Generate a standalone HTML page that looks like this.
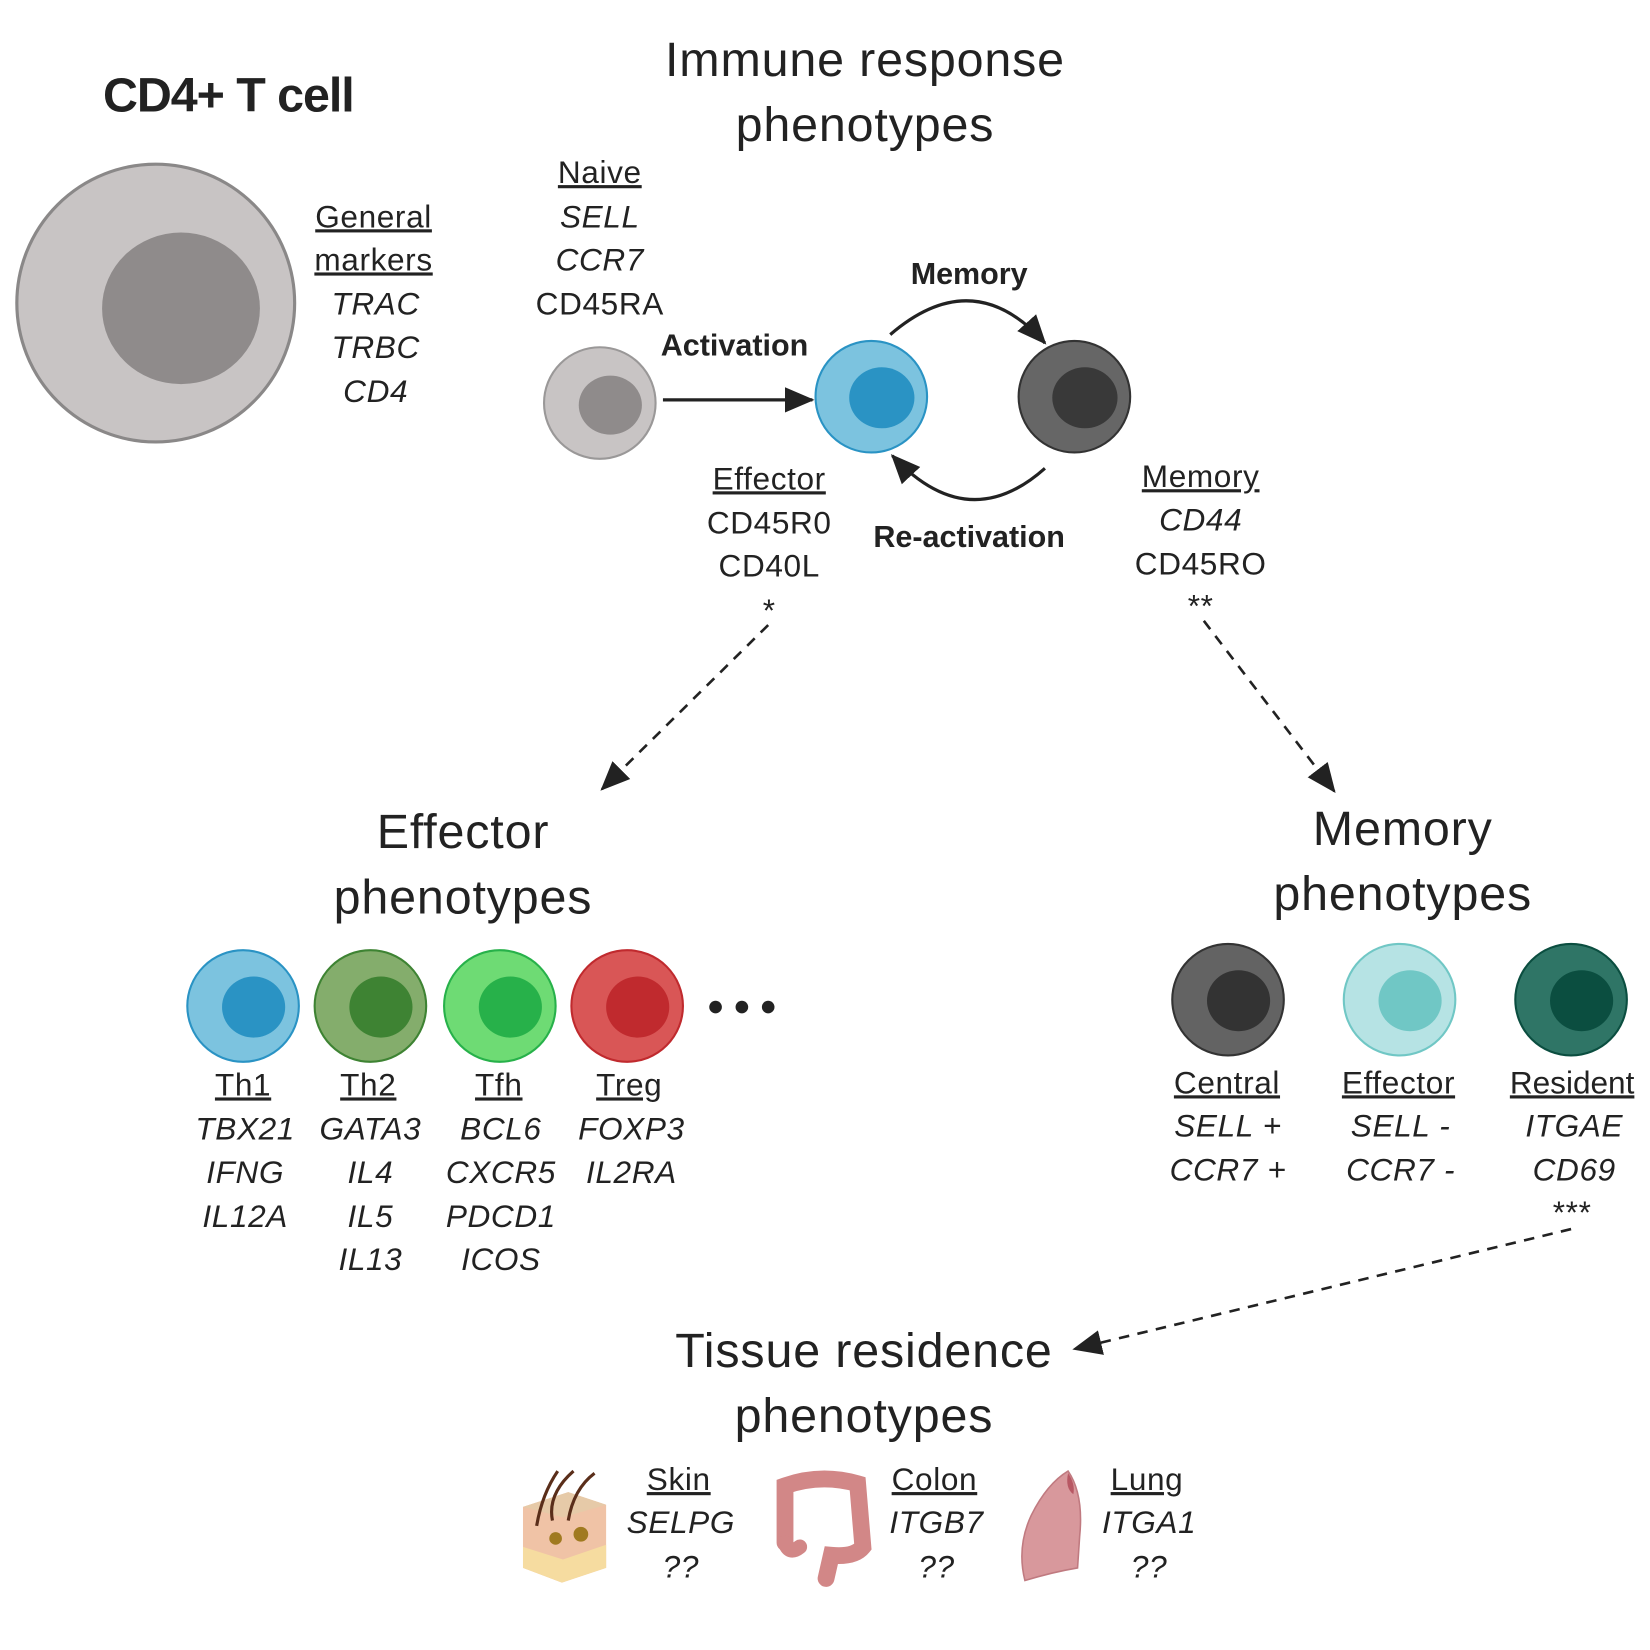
<!DOCTYPE html>
<html><head><meta charset="utf-8"><style>
html,body{margin:0;padding:0;background:#fff;}
svg{display:block;}
text{font-family:"Liberation Sans",sans-serif;fill:#222;}
.t{font-size:46px;letter-spacing:0.8px;}
.l{font-size:30px;letter-spacing:0.6px;}
.i{font-size:30px;font-style:italic;letter-spacing:0.6px;}
.b{font-size:29px;font-weight:bold;}
.u{text-decoration:underline;}
</style></head><body>
<svg width="1650" height="1650" viewBox="0 0 1568 1568">
<defs>
<marker id="ah2" markerWidth="30" markerHeight="30" refX="26" refY="15" orient="auto" markerUnits="userSpaceOnUse" viewBox="0 0 30 30"><path d="M0,3 L28,15 L0,27 z" fill="#222"/></marker></defs>

<text x="217" y="106" style="font-size:46px;font-weight:bold;letter-spacing:-1px" text-anchor="middle">CD4+ T cell</text>
<g><circle cx="148" cy="288" r="132" fill="#c8c4c4" stroke="#8a8888" stroke-width="3"/><ellipse cx="172" cy="293" rx="75" ry="72" fill="#8f8b8b"/></g>
<g text-anchor="middle">
<text x="355" y="216" class="l u">General</text><text x="355" y="257" class="l u">markers</text>
<text x="357" y="299" class="i">TRAC</text><text x="357" y="340" class="i">TRBC</text><text x="357" y="382" class="i">CD4</text></g>

<text x="822" y="72" class="t" text-anchor="middle">Immune response</text>
<text x="822" y="134" class="t" text-anchor="middle">phenotypes</text>

<g text-anchor="middle">
<text x="570" y="174" class="l u">Naive</text><text x="570" y="216" class="i">SELL</text><text x="570" y="257" class="i">CCR7</text><text x="570" y="299" class="l">CD45RA</text></g>
<g><circle cx="570" cy="383" r="53" fill="#c8c4c4" stroke="#9a9898" stroke-width="2"/><ellipse cx="580" cy="385" rx="30" ry="28" fill="#8f8b8b"/></g>
<text x="698" y="338" class="b" text-anchor="middle">Activation</text>
<line x1="630" y1="380" x2="772" y2="380" stroke="#222" stroke-width="3" marker-end="url(#ah2)"/>
<g><circle cx="828" cy="377" r="53" fill="#7cc3df" stroke="#2a93c4" stroke-width="2"/><ellipse cx="838" cy="378" rx="31" ry="29" fill="#2a93c4"/></g>
<g><circle cx="1021" cy="377" r="53" fill="#666" stroke="#333" stroke-width="2"/><ellipse cx="1031" cy="378" rx="31" ry="29" fill="#393939"/></g>
<text x="921" y="270" class="b" text-anchor="middle">Memory</text>
<path d="M846,318 Q925,250 993,326" fill="none" stroke="#222" stroke-width="3" marker-end="url(#ah2)"/>
<path d="M993,445 Q920,510 848,433" fill="none" stroke="#222" stroke-width="3" marker-end="url(#ah2)"/>
<text x="921" y="520" class="b" text-anchor="middle">Re-activation</text>

<g text-anchor="middle">
<text x="731" y="465" class="l u">Effector</text><text x="731" y="507" class="l">CD45R0</text><text x="731" y="548" class="l">CD40L</text><text x="731" y="590" class="l">*</text></g>
<g text-anchor="middle">
<text x="1141" y="463" class="l u">Memory</text><text x="1141" y="504" class="i">CD44</text><text x="1141" y="546" class="l">CD45RO</text><text x="1141" y="586" class="l">**</text></g>

<line x1="730" y1="594" x2="572" y2="750" stroke="#222" stroke-width="2.5" stroke-dasharray="10,8" marker-end="url(#ah2)"/>
<line x1="1144" y1="590" x2="1268" y2="752" stroke="#222" stroke-width="2.5" stroke-dasharray="10,8" marker-end="url(#ah2)"/>
<line x1="1493" y1="1168" x2="1021" y2="1282" stroke="#222" stroke-width="2.5" stroke-dasharray="10,8" marker-end="url(#ah2)"/>

<text x="440" y="806" class="t" text-anchor="middle">Effector</text>
<text x="440" y="868" class="t" text-anchor="middle">phenotypes</text>
<text x="1333" y="803" class="t" text-anchor="middle">Memory</text>
<text x="1333" y="865" class="t" text-anchor="middle">phenotypes</text>

<g><circle cx="231" cy="956" r="53" fill="#7cc3df" stroke="#2a93c4" stroke-width="2"/><ellipse cx="241" cy="957" rx="30" ry="29" fill="#2a93c4"/></g>
<g><circle cx="352" cy="956" r="53" fill="#84ad6c" stroke="#3e8333" stroke-width="2"/><ellipse cx="362" cy="957" rx="30" ry="29" fill="#3e8333"/></g>
<g><circle cx="475" cy="956" r="53" fill="#6edb74" stroke="#27b14a" stroke-width="2"/><ellipse cx="485" cy="957" rx="30" ry="29" fill="#27b14a"/></g>
<g><circle cx="596" cy="956" r="53" fill="#d95656" stroke="#c02a2e" stroke-width="2"/><ellipse cx="606" cy="957" rx="30" ry="29" fill="#c02a2e"/></g>
<g fill="#222"><circle cx="680" cy="957" r="6"/><circle cx="705" cy="957" r="6"/><circle cx="730" cy="957" r="6"/></g>

<g text-anchor="middle"><text x="231" y="1041" class="l u">Th1</text><text x="233" y="1083" class="i">TBX21</text><text x="233" y="1124" class="i">IFNG</text><text x="233" y="1166" class="i">IL12A</text></g>
<g text-anchor="middle"><text x="350" y="1041" class="l u">Th2</text><text x="352" y="1083" class="i">GATA3</text><text x="352" y="1124" class="i">IL4</text><text x="352" y="1166" class="i">IL5</text><text x="352" y="1207" class="i">IL13</text></g>
<g text-anchor="middle"><text x="474" y="1041" class="l u">Tfh</text><text x="476" y="1083" class="i">BCL6</text><text x="476" y="1124" class="i">CXCR5</text><text x="476" y="1166" class="i">PDCD1</text><text x="476" y="1207" class="i">ICOS</text></g>
<g text-anchor="middle"><text x="598" y="1041" class="l u">Treg</text><text x="600" y="1083" class="i">FOXP3</text><text x="600" y="1124" class="i">IL2RA</text></g>

<g><circle cx="1167" cy="950" r="53" fill="#636363" stroke="#333" stroke-width="2"/><ellipse cx="1177" cy="951" rx="30" ry="29" fill="#333"/></g>
<g><circle cx="1330" cy="950" r="53" fill="#b6e3e4" stroke="#70c7c5" stroke-width="2"/><ellipse cx="1340" cy="951" rx="30" ry="29" fill="#70c7c5"/></g>
<g><circle cx="1493" cy="950" r="53" fill="#2f7566" stroke="#0b4e40" stroke-width="2"/><ellipse cx="1503" cy="951" rx="30" ry="29" fill="#0b4e40"/></g>
<g text-anchor="middle"><text x="1166" y="1039" class="l u">Central</text><text x="1167" y="1080" class="i">SELL +</text><text x="1167" y="1122" class="i">CCR7 +</text></g>
<g text-anchor="middle"><text x="1329" y="1039" class="l u">Effector</text><text x="1331" y="1080" class="i">SELL -</text><text x="1331" y="1122" class="i">CCR7 -</text></g>
<g text-anchor="middle"><text x="1494" y="1039" class="l u" style="letter-spacing:0">Resident</text><text x="1496" y="1080" class="i">ITGAE</text><text x="1496" y="1122" class="i">CD69</text><text x="1494" y="1162" class="l">***</text></g>

<text x="821" y="1299" class="t" text-anchor="middle">Tissue residence</text>
<text x="821" y="1361" class="t" text-anchor="middle">phenotypes</text>

<g>
<path d="M497,1432 L540,1418 L576,1430 L576,1490 L534,1504 L497,1490 Z" fill="#f0c3a6"/>
<path d="M497,1432 L540,1418 L576,1430 L535,1442 Z" fill="#e6caa8"/>
<path d="M497,1470 L535,1482 L576,1468 L576,1490 L534,1504 L497,1490 Z" fill="#f6dca0"/>
<path d="M510,1450 Q515,1420 530,1398 M540,1445 Q545,1415 565,1400 M525,1445 Q520,1420 545,1398" stroke="#5a2e1a" stroke-width="3" fill="none"/>
<circle cx="528" cy="1462" r="6" fill="#a07a20"/><circle cx="552" cy="1458" r="7" fill="#a07a20"/></g>
<g text-anchor="middle"><text x="645" y="1416" class="l u">Skin</text><text x="647" y="1457" class="i">SELPG</text><text x="647" y="1499" class="i">??</text></g>

<g fill="none" stroke="#d28787" stroke-linecap="round">
<path d="M746,1466 L746,1412 Q780,1400 815,1410 L820,1470 Q812,1480 790,1478 L785,1500" stroke-width="16"/>
<path d="M746,1466 Q750,1478 760,1470" stroke-width="14"/></g>
<g text-anchor="middle"><text x="888" y="1416" class="l u">Colon</text><text x="890" y="1457" class="i">ITGB7</text><text x="890" y="1499" class="i">??</text></g>

<g><path d="M1015,1398 Q1030,1420 1026,1460 L1024,1490 Q1000,1494 974,1502 Q966,1470 980,1440 Q995,1410 1015,1398 Z" fill="#d8989c" stroke="#c07a80" stroke-width="1.5"/><path d="M1015,1400 Q1022,1410 1020,1420 Q1012,1414 1015,1400 Z" fill="#b85864"/></g>
<g text-anchor="middle"><text x="1090" y="1416" class="l u">Lung</text><text x="1092" y="1457" class="i">ITGA1</text><text x="1092" y="1499" class="i">??</text></g>
</svg>
</body></html>
